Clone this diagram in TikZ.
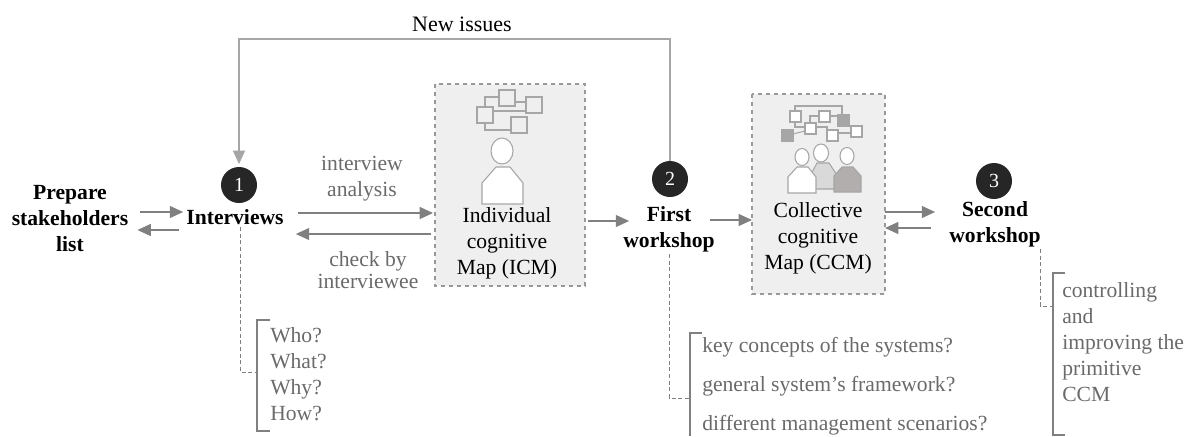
\documentclass[tikz,border=0pt]{standalone}
\usepackage{fontspec}
\setmainfont{Liberation Serif}
\usetikzlibrary{arrows.meta}
\definecolor{linegray}{HTML}{808080}
\definecolor{notegray}{HTML}{6A6A6A}
\definecolor{boxgray}{HTML}{EFEFEF}
\definecolor{persongray}{HTML}{B3AEAE}
\begin{document}
\begin{tikzpicture}[
    x=0.75pt,
    y=-0.75pt,
    stage/.style ={
        align=center,
        inner sep=0pt,
        font=\bfseries\fontsize{16.2}{19.5}\selectfont
    },
    plain/.style ={
        align=center,
        inner sep=0pt,
        font=\fontsize{16.2}{19.5}\selectfont
    },
    note/.style ={
        align=left,
        anchor=west,
        inner sep=0pt,
        text=notegray,
        font=\fontsize{16.2}{19.5}\selectfont
    },
    num/.style ={
        circle,
        minimum size=27pt,
        inner sep=0pt,
        fill=black!85,
        text=white,
        font=\fontsize{15}{16}\selectfont
    },
    mapbox/.style ={draw=gray!80, fill=boxgray, dashed, line width=0.8pt},
    arr/.style ={-{Triangle[length=10pt,width=9pt]}, draw=linegray, line width=0.9pt},
    lead/.style ={draw=linegray, densely dashed, line width=0.6pt},
    brack/.style ={draw=linegray, line width=0.8pt},
    icon/.style ={draw=gray!70, fill=boxgray, line width=0.8pt},
    person/.style ={draw=gray!70, line width=0.8pt}
    ]
    \useasboundingbox (0,0) rectangle (1189,436);

    % grey boxes
    \draw[mapbox] (435,84) rectangle (585,286);
    \draw[mapbox] (752,94) rectangle (885,294);

    % small map of the single person
    \draw[icon] (485,107) |- (507,97);
    \draw[icon] (515,102) -- (526,102);
    \draw[icon] (493,111) -- (526,111);
    \draw[icon] (485,123) |- (511,130);
    \foreach \x/ \y in {477/107, 499/90, 526/97, 511/117}
        \draw[icon] (\x,\y) rectangle ++(16,16);
    \draw[person, fill=white] (502,151) ellipse (11 and 13);
    \draw[person, fill=white] (482,204) -- (482,183) -- (496,167) -- (510,167) -- (523,183) -- (523,204) -- cycle;

    % small map of the group
    \draw[icon, fill=none] (795,116) |- (842,106) -- (842,115);
    \draw[icon, fill=none] (795,121) |- (805,127);
    \draw[icon, fill=none] (793,134) -- (805,131);
    \draw[icon, fill=none] (810,123) |- (819,116);
    \draw[icon, fill=none] (816,127) -| (827,132);
    \draw[icon, fill=none] (830,116) -- (838,116);
    \draw[icon, fill=none] (838,133) -- (851,133);
    \foreach \x/ \y/ \col in {790/111/white, 819/111/white, 838/115/gray!70, 805/123/white, 782/130/gray!70, 827/130/white, 851/126/white}
        \draw[icon, fill=\col] (\x,\y) rectangle ++(11,11);
    \draw[person, fill=gray!30] (810,189) -- (810,176) -- (817,163) -- (829,163) -- (837,175) -- (837,189) -- cycle;
    \draw[person, fill=white] (821,153) ellipse (7.5 and 9);
    \draw[person, fill=white] (802,157) ellipse (7 and 8.5);
    \draw[person, fill=white] (847,156) ellipse (7 and 8.5);
    \draw[person, fill=white] (788,193) -- (788,177) -- (797,167) -- (808,167) -- (816,177) -- (816,193) -- cycle;
    \draw[person, fill=persongray] (834,192) -- (834,176) -- (842,167) -- (853,167) -- (861,176) -- (861,192) -- cycle;

    % stages
    \foreach \name/ \pos/ \txt in {prep/{(70,219)}/{Prepare\\stakeholders\\list}, inter/{(235,217)}/{Interviews}, first/{(669,229)}/{First\\workshop}, second/{(995,224)}/{Second\\workshop}}
        \node[stage] (\name) at \pos {\txt};

    \foreach \name/ \pos/ \txt in {1/{(239,185)}/1, 2/{(670,179)}/2, 3/{(994,181)}/3}
        \node[num] (n\name) at \pos {\txt};

    \node[plain] (icm) at (507,243) {Individual\\cognitive\\Map (ICM)};
    \node[plain] (ccm) at (818,238) {Collective\\cognitive\\Map (CCM)};

    % labels
    \node[plain, text=notegray] (analysis) at (362,179) {interview\\analysis};
    \node[plain, text=notegray, font=\fontsize{16.2}{16}\selectfont] (check) at (368,270) {check by\\interviewee};
    \node[plain, font=\fontsize{16.5}{19.5}\selectfont] (issues) at (462,24) {New issues};

    \node[note] (who) at (270,374) {Who?\\What?\\Why?\\How?};
    \node[note, font=\fontsize{16.2}{29.3}\selectfont] (questions) at (702,386) {key concepts of the systems?\\general system’s framework?\\different management scenarios?};
    \node[note] (control) at (1062,342) {controlling\\and\\improving the\\primitive\\CCM};

    % arrows
    \draw[arr] ([shift={(12,-7)}]prep.east) -- ([shift={(-3,-5)}]inter.west);
    \draw[arr] ([shift={(-7,13)}]inter.west) -- ([shift={(9,11)}]prep.east);
    \draw[arr] ([shift={(14,-4)}]inter.east) -- (433,213);
    \draw[arr] (431,234) -- ([shift={(12,17)}]inter.east);
    \draw[arr] (588,221) -- ([shift={(6,-8)}]first.west);
    \draw[arr] ([shift={(-5,-9)}]first.east) -- (752,220);
    \draw[arr] (885,212) -- ([shift={(-14,-12)}]second.west);
    \draw[arr] ([shift={(-18,4)}]second.west) -- (885,228);
    \draw[arr, draw=gray!70] (n2.north) -- (670,39) -- (239,39) -- ([yshift=2pt]n1.north);

    % brackets and their dashed leads
    \coordinate (whoend) at (257,372);
    \coordinate (questionsend) at (690,398);
    \coordinate (controlend) at (1053,306);
    \draw[lead] ([shift={(5,2)}]inter.south) |- (whoend);
    \draw[lead] ([shift={(0,2)}]first.south) |- (questionsend);
    \draw[lead] ([shift={(45,2)}]second.south) |- (controlend);
    \draw[brack] (270,320) -| (257,431) -- (270,431);
    \draw[brack] (702,333) -| (690,436);
    \draw[brack] (1065,273) -| (1053,435) -- (1065,435);
\end{tikzpicture}
\end{document}
